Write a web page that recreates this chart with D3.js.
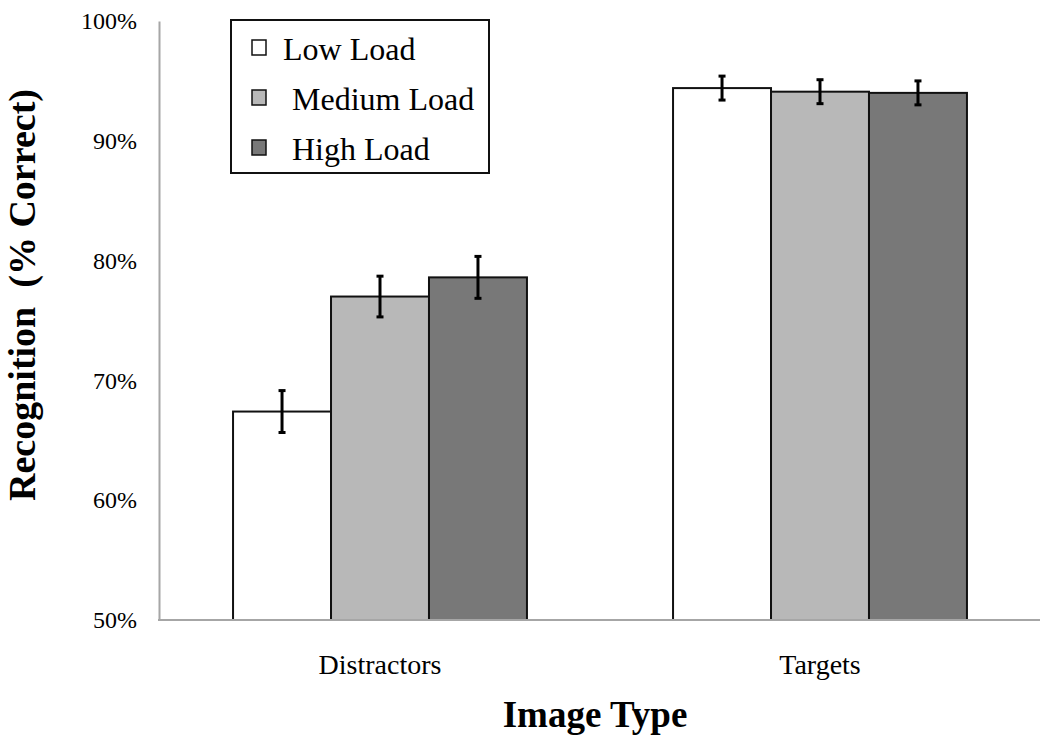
<!DOCTYPE html>
<html>
<head>
<meta charset="utf-8">
<script src="https://cdn.jsdelivr.net/npm/d3@7"></script>
<style>
  html, body { margin: 0; padding: 0; background: #fff; }
  svg { display: block; font-family: "Liberation Serif", "Times New Roman", serif; }
</style>
</head>
<body>
<svg id="chart" width="1050" height="744"></svg>
<script>
const categories = ["Distractors", "Targets"];
const seriesNames = ["Low Load", "Medium Load", "High Load"];
const seriesColors = ["#ffffff", "#b8b8b8", "#787878"];
const lowLoad = [67.4, 94.4];
const mediumLoad = [77.0, 94.1];
const highLoad = [78.6, 94.0];
const lowErr = [1.75, 1.0];
const mediumErr = [1.7, 1.0];
const highErr = [1.75, 1.0];
const yTicks = [50, 60, 70, 80, 90, 100];

const seriesValues = [lowLoad, mediumLoad, highLoad];
const seriesErrors = [lowErr, mediumErr, highErr];

const svg = d3.select("#chart");
const plotLeft = 160, plotRight = 1040, plotTop = 21, plotBottom = 620;
const serif = "'Liberation Serif', 'Times New Roman', serif";

const x0 = d3.scaleBand().domain(categories).range([plotLeft, plotRight])
  .paddingInner(0.332).paddingOuter(0.166);
const x1 = d3.scaleBand().domain(seriesNames).range([0, x0.bandwidth()]);
const y = d3.scaleLinear().domain([50, 100]).range([plotBottom, plotTop]);

// Y axis labels
const yAxis = d3.axisLeft(y).tickValues(yTicks).tickSize(0).tickPadding(22)
  .tickFormat(d => d + "%");
const gy = svg.append("g").attr("transform", `translate(${plotLeft - 1},0)`).call(yAxis);
gy.attr("font-family", null);
gy.select(".domain").attr("stroke", "#a6a6a6").attr("stroke-width", 2);
gy.selectAll("text").attr("font-size", 24).attr("fill", "#000").style("font-family", serif);

// Bars
const data = [];
categories.forEach((c, ci) => {
  seriesNames.forEach((s, si) => {
    data.push({ cat: c, series: s, value: seriesValues[si][ci], err: seriesErrors[si][ci], color: seriesColors[si] });
  });
});

svg.append("g").selectAll("rect").data(data).join("rect")
  .attr("x", d => x0(d.cat) + x1(d.series))
  .attr("y", d => y(d.value))
  .attr("width", x1.bandwidth())
  .attr("height", d => y(50) - y(d.value))
  .attr("fill", d => d.color)
  .attr("stroke", "#111")
  .attr("stroke-width", 2);

// X axis
const xAxis = d3.axisBottom(x0).tickSize(0).tickPadding(34);
const gx = svg.append("g").attr("transform", `translate(0,${plotBottom})`).call(xAxis);
gx.attr("font-family", null);
gx.select(".domain").attr("stroke", "#a6a6a6").attr("stroke-width", 2)
  .attr("d", `M${plotLeft - 2},0H${plotRight}`);
gx.selectAll("text").attr("font-size", 28).attr("fill", "#000").style("font-family", serif);

// Error bars
const eb = svg.append("g").selectAll("g").data(data).join("g");
const cx = d => x0(d.cat) + x1(d.series) + x1.bandwidth() / 2;
eb.append("line")
  .attr("x1", cx).attr("x2", cx)
  .attr("y1", d => y(d.value + d.err)).attr("y2", d => y(d.value - d.err))
  .attr("stroke", "#000").attr("stroke-width", 3);
eb.append("line")
  .attr("x1", d => cx(d) - 3.5).attr("x2", d => cx(d) + 3.5)
  .attr("y1", d => y(d.value + d.err)).attr("y2", d => y(d.value + d.err))
  .attr("stroke", "#000").attr("stroke-width", 3);
eb.append("line")
  .attr("x1", d => cx(d) - 3.5).attr("x2", d => cx(d) + 3.5)
  .attr("y1", d => y(d.value - d.err)).attr("y2", d => y(d.value - d.err))
  .attr("stroke", "#000").attr("stroke-width", 3);

// Legend
const legend = svg.append("g");
legend.append("rect").attr("x", 231).attr("y", 20).attr("width", 258).attr("height", 153)
  .attr("fill", "#fff").attr("stroke", "#111").attr("stroke-width", 2);
const legendTextX = [283, 292, 292];
seriesNames.forEach((s, i) => {
  const base = 60 + i * 50;
  legend.append("rect").attr("x", 252).attr("y", base - 20).attr("width", 14).attr("height", 15)
    .attr("fill", seriesColors[i]).attr("stroke", "#111").attr("stroke-width", 1.5);
  legend.append("text").attr("x", legendTextX[i]).attr("y", base)
    .attr("font-size", 32).attr("fill", "#000").style("font-family", serif).text(s);
});

// Axis titles
svg.append("text").attr("x", 595).attr("y", 727).attr("text-anchor", "middle")
  .style("font-family", serif)
  .attr("font-size", 37).attr("font-weight", "bold").attr("fill", "#000").text("Image Type");
svg.append("text").attr("transform", "translate(35,295) rotate(-90)").attr("text-anchor", "middle")
  .style("font-family", serif)
  .attr("font-size", 38).attr("font-weight", "bold").attr("fill", "#000")
  .attr("xml:space", "preserve").style("white-space", "pre")
  .text("Recognition  (% Correct)");
</script>
</body>
</html>
